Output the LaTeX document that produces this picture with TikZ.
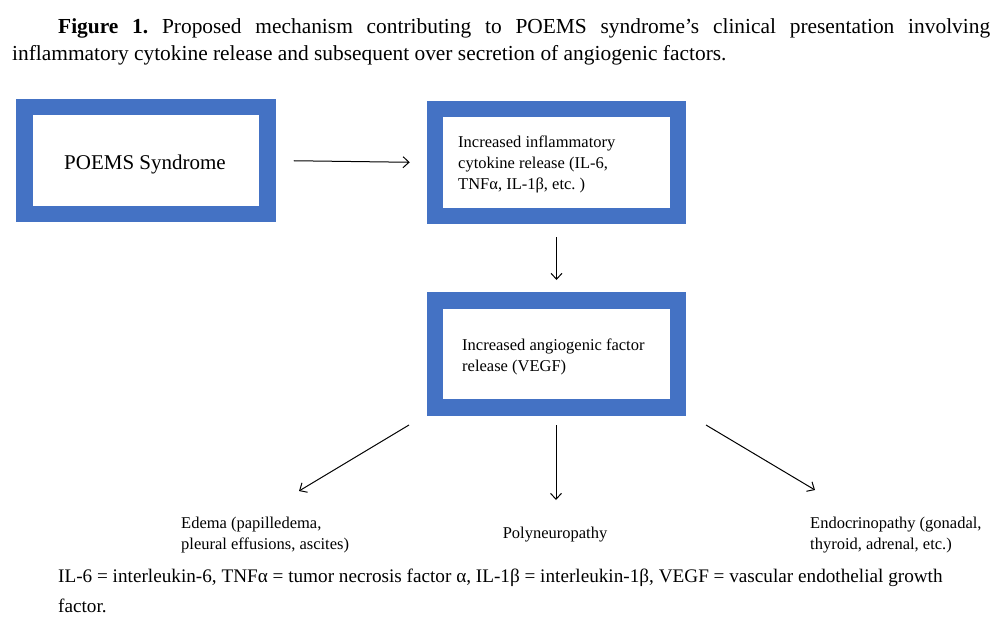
\documentclass[tikz,border=0pt]{standalone}
\usepackage{fontspec}
\setmainfont{Liberation Serif}
\usetikzlibrary{arrows.meta}
\definecolor{boxblue}{HTML}{4472C4}
\begin{document}
\frenchspacing
\begin{tikzpicture}[x=1pt,y=-1pt,
  bluebox/.style={draw=boxblue,line width=16.5pt,fill=white,minimum width=243pt,minimum height=107pt,inner sep=0pt},
  boxtext/.style={font=\fontsize{16.5}{21}\selectfont,align=left,anchor=west,inner sep=0pt},
  labtext/.style={font=\fontsize{16.5}{21}\selectfont,align=left,inner sep=0pt},
  conn/.style={line width=1pt,-{Straight Barb[length=6pt,width=11pt]}}]
\useasboundingbox (0,0) rectangle (1000,619);
% title
\node[anchor=west,inner sep=0pt,font=\fontsize{21.4}{27}\selectfont] (t1) at (58,28)
  {\hbox to 932pt{\textbf{Figure 1.} Proposed mechanism contributing to POEMS syndrome’s clinical presentation involving}};
\node[anchor=west,inner sep=0pt,font=\fontsize{21.4}{27}\selectfont] (t2) at (12,55)
  {inflammatory cytokine release and subsequent over secretion of angiogenic factors.};
% boxes
\node[bluebox] (b1) at (146,160.5) {};
\node[font=\fontsize{21}{25}\selectfont,inner sep=0pt] (b1t) at (145,164) {POEMS Syndrome};
\node[bluebox] (b2) at (556.5,162.5) {};
\node[boxtext] (b2t) at (458,164) {Increased inflammatory\\cytokine release (IL-6,\\TNFα, IL-1β, etc. )};
\node[bluebox] (b3) at (556.5,353.75) {};
\node[boxtext] (b3t) at (462,357) {Increased angiogenic factor\\release (VEGF)};
% outcomes
\node[labtext,anchor=west] (o1) at (181,535.5) {Edema (papilledema,\\pleural effusions, ascites)};
\node[labtext] (o2) at (555,535) {Polyneuropathy};
\node[labtext,anchor=west] (o3) at (810,535.5) {Endocrinopathy (gonadal,\\thyroid, adrenal, etc.)};
% connectors
\draw[conn,shorten <=18pt,shorten >=17pt] (b1.east) -- (b2.west);
\draw[conn,shorten <=13pt,shorten >=12pt] (b2.south) -- (b3.south |- b3.north);
\coordinate (s1) at (409,425); \coordinate (e1) at (299,491);
\coordinate (s2) at (556,425); \coordinate (e2) at (556,500);
\coordinate (s3) at (706,425); \coordinate (e3) at (815,490);
\draw[conn] (s1) -- (e1);
\draw[conn] (s2) -- (e2);
\draw[conn] (s3) -- (e3);
% footnote
\node[anchor=west,inner sep=0pt,font=\fontsize{19.2}{28}\selectfont] (f1) at (58,578)
  {IL-6 = interleukin-6, TNFα = tumor necrosis factor α, IL-1β = interleukin-1β, VEGF = vascular endothelial growth};
\node[anchor=west,inner sep=0pt,font=\fontsize{19.2}{28}\selectfont] (f2) at (58,606) {factor.};
\end{tikzpicture}
\end{document}
